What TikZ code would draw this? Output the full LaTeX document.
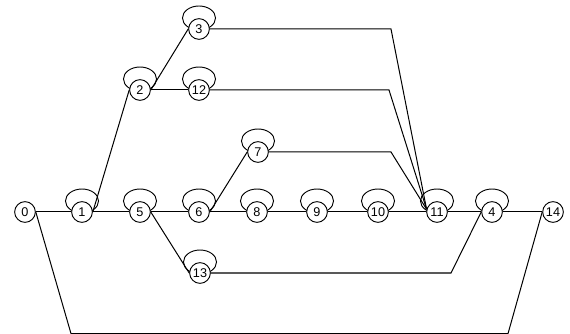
\documentclass[tikz,border=0pt]{standalone}
\usepackage{fontspec}
\setmainfont{Liberation Sans}
\pgfdeclarelayer{bg}
\pgfsetlayers{bg,main}
\begin{document}
\begin{tikzpicture}[x=0.75pt,y=-0.75pt,
  ev/.style={circle,draw,fill=white,inner sep=0pt,minimum size=15.5pt,font=\fontsize{9.5}{10}\selectfont,line width=0.7pt},
  edge/.style={line width=0.75pt},
  selfloop/.style={line width=0.7pt}]
\useasboundingbox (0,0) rectangle (570,334);
\node[ev] (n0) at (25,212) {0};
\node[ev] (n1) at (82,212) {1};
\node[ev] (n5) at (140,212) {5};
\node[ev] (n6) at (199,212) {6};
\node[ev] (n8) at (257,212) {8};
\node[ev] (n9) at (317,212) {9};
\node[ev] (n10) at (378,212) {10};
\node[ev] (n11) at (437,212) {11};
\node[ev] (n4) at (492,212) {4};
\node[ev] (n14) at (553,212) {14};
\node[ev] (n2) at (140,90) {2};
\node[ev] (n12) at (199,90) {12};
\node[ev] (n3) at (199,29) {3};
\node[ev] (n7) at (258,152) {7};
\node[ev] (n13) at (200,273) {13};
\begin{pgfonlayer}{bg}
\foreach \n in {n1,n5,n6,n8,n9,n10,n11,n4,n2,n12,n3,n7,n13}
  \draw[selfloop] (\n.center) ++(0,-11) ellipse [x radius=12.4pt, y radius=9pt];
\end{pgfonlayer}
\coordinate (b3) at (391,29);
\coordinate (b12) at (389,90);
\coordinate (b7) at (391,152);
\coordinate (b13) at (451,273);
\coordinate (bl) at (71,333.6);
\coordinate (br) at (508,333.6);
\draw[edge] (n0) -- (n1);
\draw[edge] (n1) -- (n5);
\draw[edge] (n5) -- (n6);
\draw[edge] (n6) -- (n8);
\draw[edge] (n8) -- (n9);
\draw[edge] (n9) -- (n10);
\draw[edge] (n10) -- (n11);
\draw[edge] (n11) -- (n4);
\draw[edge] (n4) -- (n14);
\draw[edge] (n1.east) -- (n2.west);
\draw[edge] (n2.east) -- (n3.west);
\draw[edge] (n2) -- (n12);
\draw[edge] (n6.east) -- (n7.west);
\draw[edge] (n5.east) -- (n13.west);
\draw[edge] (n3.east) -- (b3) -- (n11.165);
\draw[edge] (n12.east) -- (b12) -- (n11.165);
\draw[edge] (n7.east) -- (b7) -- (n11.165);
\draw[edge] (n13.east) -- (b13) -- (n4.west);
\draw[edge] (n0.east) -- (bl) -- (br) -- (n14.west);
\end{tikzpicture}
\end{document}
